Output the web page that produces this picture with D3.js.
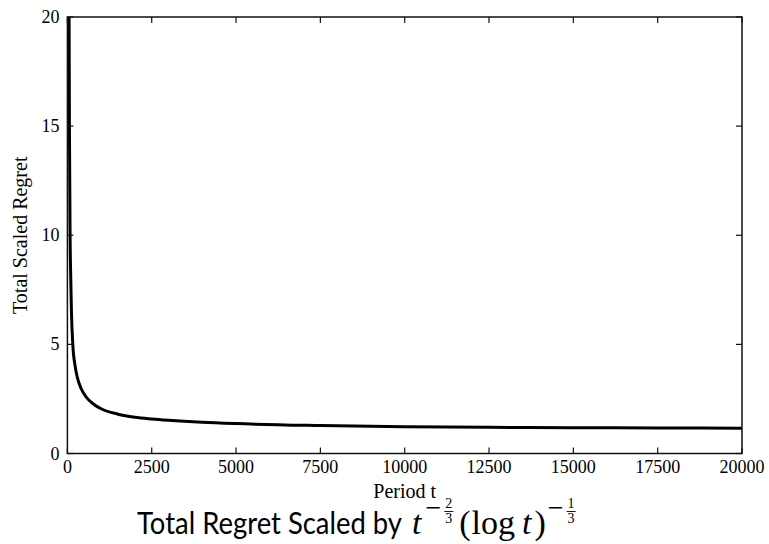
<!DOCTYPE html>
<html>
<head>
<meta charset="utf-8">
<style>
	body { margin: 0; background: #fff; }
	.frame { fill: none; stroke: #111; stroke-width: 1.5; }
	.tick { stroke: #111; stroke-width: 1.2; }
	.regret-line { fill: none; stroke: #000; stroke-width: 3; stroke-linejoin: round; }
</style>
</head>
<body>
<div class="vis-regret"></div>
<script src="https://d3js.org/d3.v7.min.js"></script>
<script>

	// Data
	let periods = [40, 50, 60, 80, 100, 120, 160, 230, 300, 400, 550, 770, 1000, 1500, 2000, 2500, 3000, 4000, 5000, 7500, 10000, 12500, 15000, 17500, 20000];
	let regret = [26, 20, 15, 10, 8, 6.5, 5.0, 4.0, 3.45, 3.0, 2.6, 2.27, 2.05, 1.8, 1.66, 1.58, 1.52, 1.43, 1.37, 1.28, 1.22, 1.2, 1.18, 1.17, 1.16];
	let xTicks = [0, 2500, 5000, 7500, 10000, 12500, 15000, 17500, 20000];
	let yTicks = [0, 5, 10, 15, 20];

	let serif = "'Liberation Serif', 'Times New Roman', serif";

	// Setup
	let margin = {top: 17, right: 27, bottom: 90.5, left: 67.4},
		fullWidth = 769, fullHeight = 544,
		width = fullWidth - margin.left - margin.right,
		height = fullHeight - margin.top - margin.bottom;

	let x = d3.scaleLinear().domain([0, 20000]).range([0, width]);
	let y = d3.scaleLinear().domain([0, 20]).range([height, 0]);

	let valueline = d3.line()
		.x(d => x(d[0]))
		.y(d => y(d[1]))
		.curve(d3.curveMonotoneX);

	let root = d3.select(".vis-regret")
		.append("svg")
			.attr("width", fullWidth)
			.attr("height", fullHeight);

	let svg = root.append("g")
		.attr("transform", "translate(" + margin.left + "," + margin.top + ")");

	svg.append("clipPath")
		.attr("id", "plot-clip")
		.append("rect")
			.attr("width", width)
			.attr("height", height);

	// LINE
	svg.append("path")
		.datum(zip(periods, regret))
		.attr("class", "regret-line")
		.attr("clip-path", "url(#plot-clip)")
		.attr("d", valueline);

	// FRAME
	svg.append("rect")
		.attr("class", "frame")
		.attr("width", width)
		.attr("height", height);

	// TICKS (inward, all four sides)
	let tickLen = 6;
	xTicks.forEach(t => {
		svg.append("line").attr("class", "tick")
			.attr("x1", x(t)).attr("x2", x(t))
			.attr("y1", height).attr("y2", height - tickLen);
		svg.append("line").attr("class", "tick")
			.attr("x1", x(t)).attr("x2", x(t))
			.attr("y1", 0).attr("y2", tickLen);
		svg.append("text")
			.attr("x", x(t))
			.attr("y", height + 19)
			.style("font-family", serif)
			.style("font-size", "18px")
			.style("text-anchor", "middle")
			.text(t);
	});
	yTicks.forEach(v => {
		svg.append("line").attr("class", "tick")
			.attr("x1", 0).attr("x2", tickLen)
			.attr("y1", y(v)).attr("y2", y(v));
		svg.append("line").attr("class", "tick")
			.attr("x1", width).attr("x2", width - tickLen)
			.attr("y1", y(v)).attr("y2", y(v));
		svg.append("text")
			.attr("x", -8)
			.attr("y", y(v) + 6)
			.style("font-family", serif)
			.style("font-size", "18px")
			.style("text-anchor", "end")
			.text(v);
	});

	// AXIS TITLES
	svg.append("text")
		.attr("x", width / 2)
		.attr("y", height + 44)
		.style("font-family", serif)
		.style("font-size", "20px")
		.style("text-anchor", "middle")
		.text("Period t");

	svg.append("text")
		.attr("transform", "rotate(-90)")
		.attr("x", -height / 2)
		.attr("y", -40)
		.style("font-family", serif)
		.style("font-size", "20px")
		.style("text-anchor", "middle")
		.text("Total Scaled Regret");

	// TITLE: "Total Regret Scaled by t^{-2/3} (log t)^{-1/3}"
	let baseY = 534;
	let title = root.append("g");
	title.append("text")
		.attr("x", 137)
		.attr("y", baseY)
		.attr("textLength", 265)
		.attr("lengthAdjust", "spacingAndGlyphs")
		.style("font-family", "Lato, 'Open Sans', sans-serif")
		.style("font-size", "30px")
		.text("Total Regret Scaled by");
	let cx = 137 + 265 + 10;

	function mathText(str, size, italic, dx, dy) {
		return title.append("text")
			.attr("x", cx + dx)
			.attr("y", baseY + dy)
			.style("font-family", serif)
			.style("font-size", size + "px")
			.style("font-style", italic ? "italic" : "normal")
			.text(str);
	}
	function advance(el, gap) {
		cx += el.node().getComputedTextLength() + gap;
	}
	function fraction(num, den) {
		let n = mathText(num, 14, false, 2, -26);
		let d = mathText(den, 14, false, 2, -11);
		let w = Math.max(n.node().getComputedTextLength(), d.node().getComputedTextLength());
		title.append("line")
			.attr("x1", cx + 1).attr("x2", cx + w + 3)
			.attr("y1", baseY - 22.5).attr("y2", baseY - 22.5)
			.attr("stroke", "#000").attr("stroke-width", 0.9);
		cx += w + 9;
	}

	advance(mathText("t", 34, true, 0, 0), 4);
	advance(mathText("\u2212", 28, false, 0, -17), 2);
	fraction("2", "3");
	advance(mathText("(", 34, false, 0, 0), 1);
	advance(mathText("log", 34, false, 0, 0), 7);
	advance(mathText("t", 34, true, 0, 0), 3);
	advance(mathText(")", 34, false, 0, 0), 2);
	advance(mathText("\u2212", 28, false, 0, -17), 2);
	fraction("1", "3");

	// Utilities
	function zip(a, b) {
		return a.map((e, i) => [e, b[i]]);
	}
</script>
</body>
</html>
